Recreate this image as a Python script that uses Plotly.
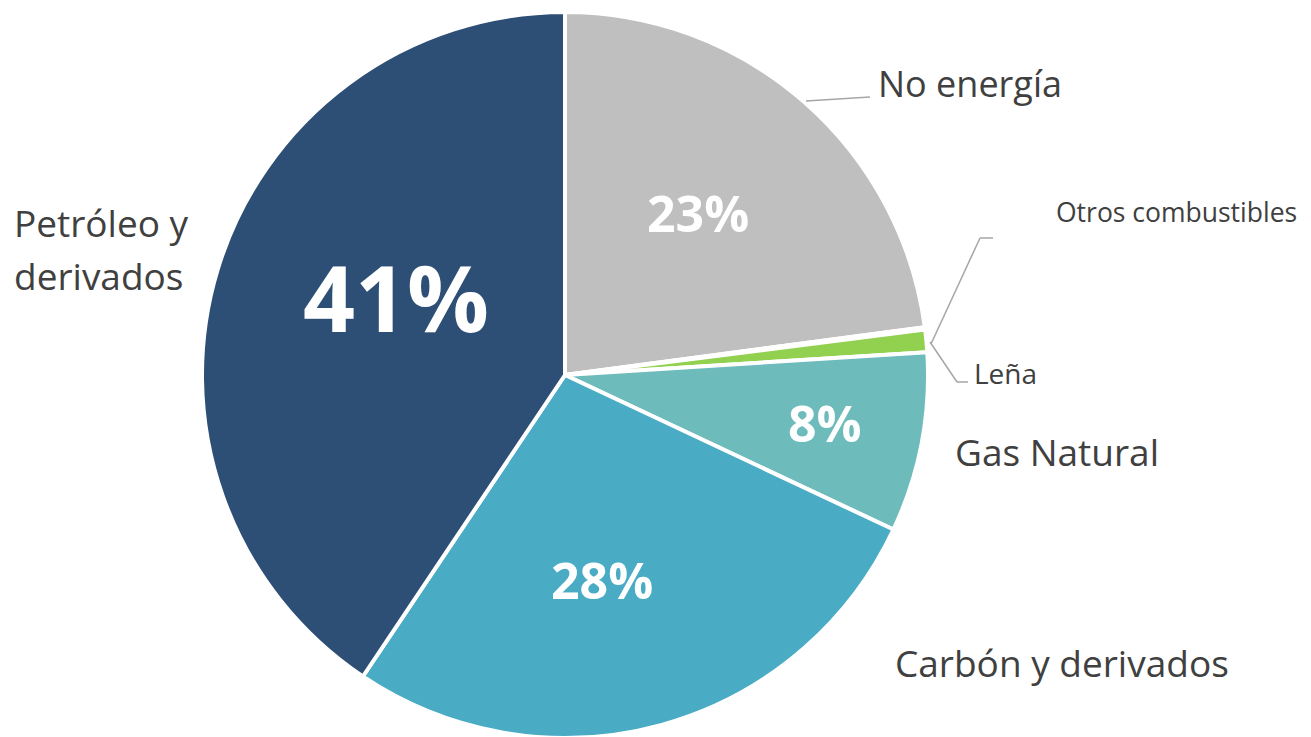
import plotly.graph_objects as go

# ---- data ----
categories = ["No energía", "Otros combustibles", "Leña", "Gas Natural",
              "Carbón y derivados", "Petróleo y derivados"]
values = [22.9, 0.1, 1.0, 8.0, 27.4, 40.6]
pct_labels = ["23%", "", "", "8%", "28%", "41%"]
colors = ["#BFBFBF", "#A5A5A5", "#92D050", "#6EBBBC", "#4AABC5", "#2D4E75"]

W, H = 1303, 737
OFF = 8  # default page body margin


def px(x):
    return (x - OFF) / W


def py(y):
    return 1 - (y - OFF) / H


CX, CY, R = 565, 375, 363

fig = go.Figure(go.Pie(
    labels=categories,
    values=values,
    sort=False,
    direction="clockwise",
    rotation=0,
    marker=dict(colors=colors, line=dict(color="white", width=4)),
    textinfo="none",
    hoverinfo="label+percent",
    domain=dict(x=[px(CX - R), px(CX + R)], y=[py(CY + R), py(CY - R)]),
    showlegend=False,
))

FONT = "Open Sans, Calibri, Carlito, sans-serif"
TXT = "#404040"

annotations = []

# category labels (outside)
outside = [
    ("No energía", 876, 84, 36),
    ("Otros combustibles", 1054, 212, 26.5),
    ("Leña", 972, 373, 28),
    ("Gas Natural", 953, 451, 37),
    ("Carbón y derivados", 893, 662, 37),
    ("Petróleo y", 12, 222, 37),
    ("derivados", 12, 275, 37),
]
for text, x, y, s in outside:
    annotations.append(dict(
        text=text, x=px(x), y=py(y), xref="paper", yref="paper",
        xanchor="left", yanchor="middle", align="left", showarrow=False,
        font=dict(family=FONT, size=s, color=TXT)))

# percentage labels (inside)
inside = [
    (pct_labels[5], 396, 297, 91),
    (pct_labels[0], 698, 213, 50),
    (pct_labels[4], 602, 580, 50),
    (pct_labels[3], 825, 423, 50),
]
for text, x, y, s in inside:
    annotations.append(dict(
        text="<b>%s</b>" % text, x=px(x), y=py(y), xref="paper", yref="paper",
        xanchor="center", yanchor="middle", showarrow=False,
        font=dict(family=FONT, size=s, color="white")))

# leader lines
LINE = dict(color="#A6A6A6", width=1.5)
segments = [
    (806, 101, 870, 97),
    (931, 344, 980, 238),
    (980, 238, 993, 238),
    (930, 342, 957, 382),
    (957, 382, 968, 382),
]
shapes = [dict(type="line", xref="paper", yref="paper",
               x0=px(a), y0=py(b), x1=px(c), y1=py(d), line=LINE)
          for a, b, c, d in segments]

fig.update_layout(
    width=W, height=H,
    margin=dict(l=0, r=0, t=0, b=0),
    paper_bgcolor="white", plot_bgcolor="white",
    annotations=annotations,
    shapes=shapes,
)

fig.write_html("out.html")
